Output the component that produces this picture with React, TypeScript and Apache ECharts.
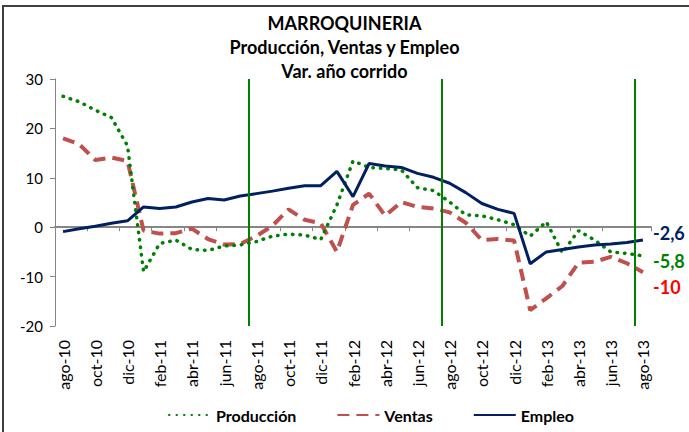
import React, { useEffect, useRef } from "react";
import * as echarts from "echarts";

const months = [
  "ago-10","sep-10","oct-10","nov-10","dic-10","ene-11","feb-11","mar-11","abr-11","may-11","jun-11","jul-11",
  "ago-11","sep-11","oct-11","nov-11","dic-11","ene-12","feb-12","mar-12","abr-12","may-12","jun-12","jul-12",
  "ago-12","sep-12","oct-12","nov-12","dic-12","ene-13","feb-13","mar-13","abr-13","may-13","jun-13","jul-13",
  "ago-13",
];

const produccion = [
  26.5, 25.4, 23.7, 22.2, 16.5, -9.0, -3.3, -2.6, -4.5, -4.7, -3.8, -3.6,
  -2.9, -1.8, -1.4, -1.6, -2.5, 4.5, 13.4, 12.1, 11.9, 11.6, 8.0, 7.4,
  5.1, 2.5, 2.3, 1.5, 0.5, -1.8, 1.1, -5.2, -0.7, -2.6, -5.0, -5.3,
  -5.8,
];

const ventas = [
  18.0, 16.8, 13.6, 14.1, 13.4, -0.7, -1.3, -1.2, -0.3, -2.4, -3.5, -3.4,
  -1.8, 0.3, 3.6, 1.5, 0.8, -5.0, 4.5, 6.8, 2.3, 5.1, 4.1, 3.8,
  3.0, 0.9, -2.6, -2.4, -2.7, -16.8, -14.4, -11.9, -7.2, -7.0, -6.0, -7.3,
  -9.1,
];

const empleo = [
  -0.9, -0.3, 0.2, 0.8, 1.3, 4.1, 3.8, 4.1, 5.1, 5.8, 5.5, 6.3,
  6.8, 7.3, 7.9, 8.4, 8.4, 11.3, 6.2, 12.9, 12.4, 12.1, 10.9, 10.1,
  8.9, 7.0, 4.8, 3.6, 2.8, -7.4, -5.0, -4.5, -4.0, -3.6, -3.4, -3.1,
  -2.6,
];

const yearBreaks = [12, 24, 36];

const endLabels = [
  { text: "-2,6", color: "#002060", y: 234 },
  { text: "-5,8", color: "#008000", y: 262 },
  { text: "-10", color: "#FF0000", y: 288 },
];

const titleLines = ["MARROQUINERIA", "Producción, Ventas y Empleo", "Var. año corrido"];

const FONT = "Lato, 'Open Sans', sans-serif";

export default function App() {
  const ref = useRef<HTMLDivElement>(null);

  useEffect(() => {
    if (!ref.current) return;
    const chart = echarts.init(ref.current, undefined, { renderer: "svg" });
    const gray = "#868686";
    chart.setOption({
      animation: false,
      backgroundColor: "#ffffff",
      textStyle: { fontFamily: FONT },
      title: {
        text: titleLines.join("\n"),
        left: "center",
        top: 6,
        textStyle: {
          fontFamily: FONT,
          fontWeight: "bold",
          fontSize: 18,
          lineHeight: 24,
          color: "#000",
        },
      },
      grid: { left: 55, right: 38, top: 79, bottom: 106, containLabel: false },
      legend: {
        bottom: 4,
        left: 163,
        itemWidth: 42,
        itemHeight: 12,
        itemGap: 40,
        itemStyle: { opacity: 0 },
        textStyle: { fontFamily: FONT, fontWeight: "bold", fontSize: 16, color: "#000" },
        data: ["Producción", "Ventas", "Empleo"],
      },
      xAxis: [
        {
          type: "category",
          data: months,
          boundaryGap: true,
          position: "bottom",
          axisLine: { onZero: true, lineStyle: { color: gray, width: 2 } },
          axisTick: { show: true, interval: 1, length: 4, lineStyle: { color: gray } },
          axisLabel: { show: false },
          splitLine: { show: false },
        },
        {
          type: "category",
          data: months,
          boundaryGap: true,
          position: "bottom",
          axisLine: { show: false, onZero: false },
          axisTick: { show: false },
          axisLabel: {
            show: true,
            interval: 1,
            rotate: 90,
            margin: 14,
            fontFamily: FONT,
            fontSize: 16,
            color: "#000",
          },
          splitLine: { show: false },
        },
        {
          type: "value",
          min: 0,
          max: months.length,
          show: false,
          position: "bottom",
          axisLine: { onZero: false },
        },
      ],
      yAxis: {
        type: "value",
        min: -20,
        max: 30,
        interval: 10,
        axisLine: { show: true, lineStyle: { color: gray, width: 1 } },
        axisTick: { show: true, length: 5, inside: false, lineStyle: { color: gray } },
        axisLabel: { fontFamily: FONT, fontSize: 15, color: "#000", margin: 12 },
        splitLine: { show: false },
      },
      graphic: [
        {
          type: "rect",
          shape: { x: 3, y: 6, width: 720, height: 460 },
          style: { fill: "none", stroke: "#404040", lineWidth: 2 },
          silent: true,
        },
        ...endLabels.map((l) => ({
          type: "text",
          left: 653,
          top: l.y - 10,
          style: {
            text: l.text,
            fill: l.color,
            font: `bold 18px ${FONT}`,
          },
        })),
      ],
      series: [
        {
          name: "breaks",
          type: "line",
          xAxisIndex: 2,
          data: [],
          silent: true,
          markLine: {
            symbol: "none",
            silent: true,
            label: { show: false },
            lineStyle: { color: "#008000", width: 2, type: "solid" },
            data: yearBreaks.map((b) => ({ xAxis: b })),
          },
        },
        {
          name: "Producción",
          type: "line",
          data: produccion,
          showSymbol: false,
          symbol: "none",
          color: "#008000",
          lineStyle: { color: "#008000", width: 3.5, type: [0.5, 7], cap: "round" },
          z: 3,
        },
        {
          name: "Ventas",
          type: "line",
          data: ventas,
          showSymbol: false,
          symbol: "none",
          color: "#C0504D",
          lineStyle: { color: "#C0504D", width: 4, type: [12, 7] },
          z: 2,
        },
        {
          name: "Empleo",
          type: "line",
          data: empleo,
          showSymbol: false,
          symbol: "none",
          color: "#002060",
          lineStyle: { color: "#002060", width: 3 },
          z: 4,
        },
      ],
    });
    return () => chart.dispose();
  }, []);

  return (
    <div
      ref={ref}
      style={{ position: "fixed", left: 0, top: 0, width: 689, height: 432 }}
    />
  );
}
